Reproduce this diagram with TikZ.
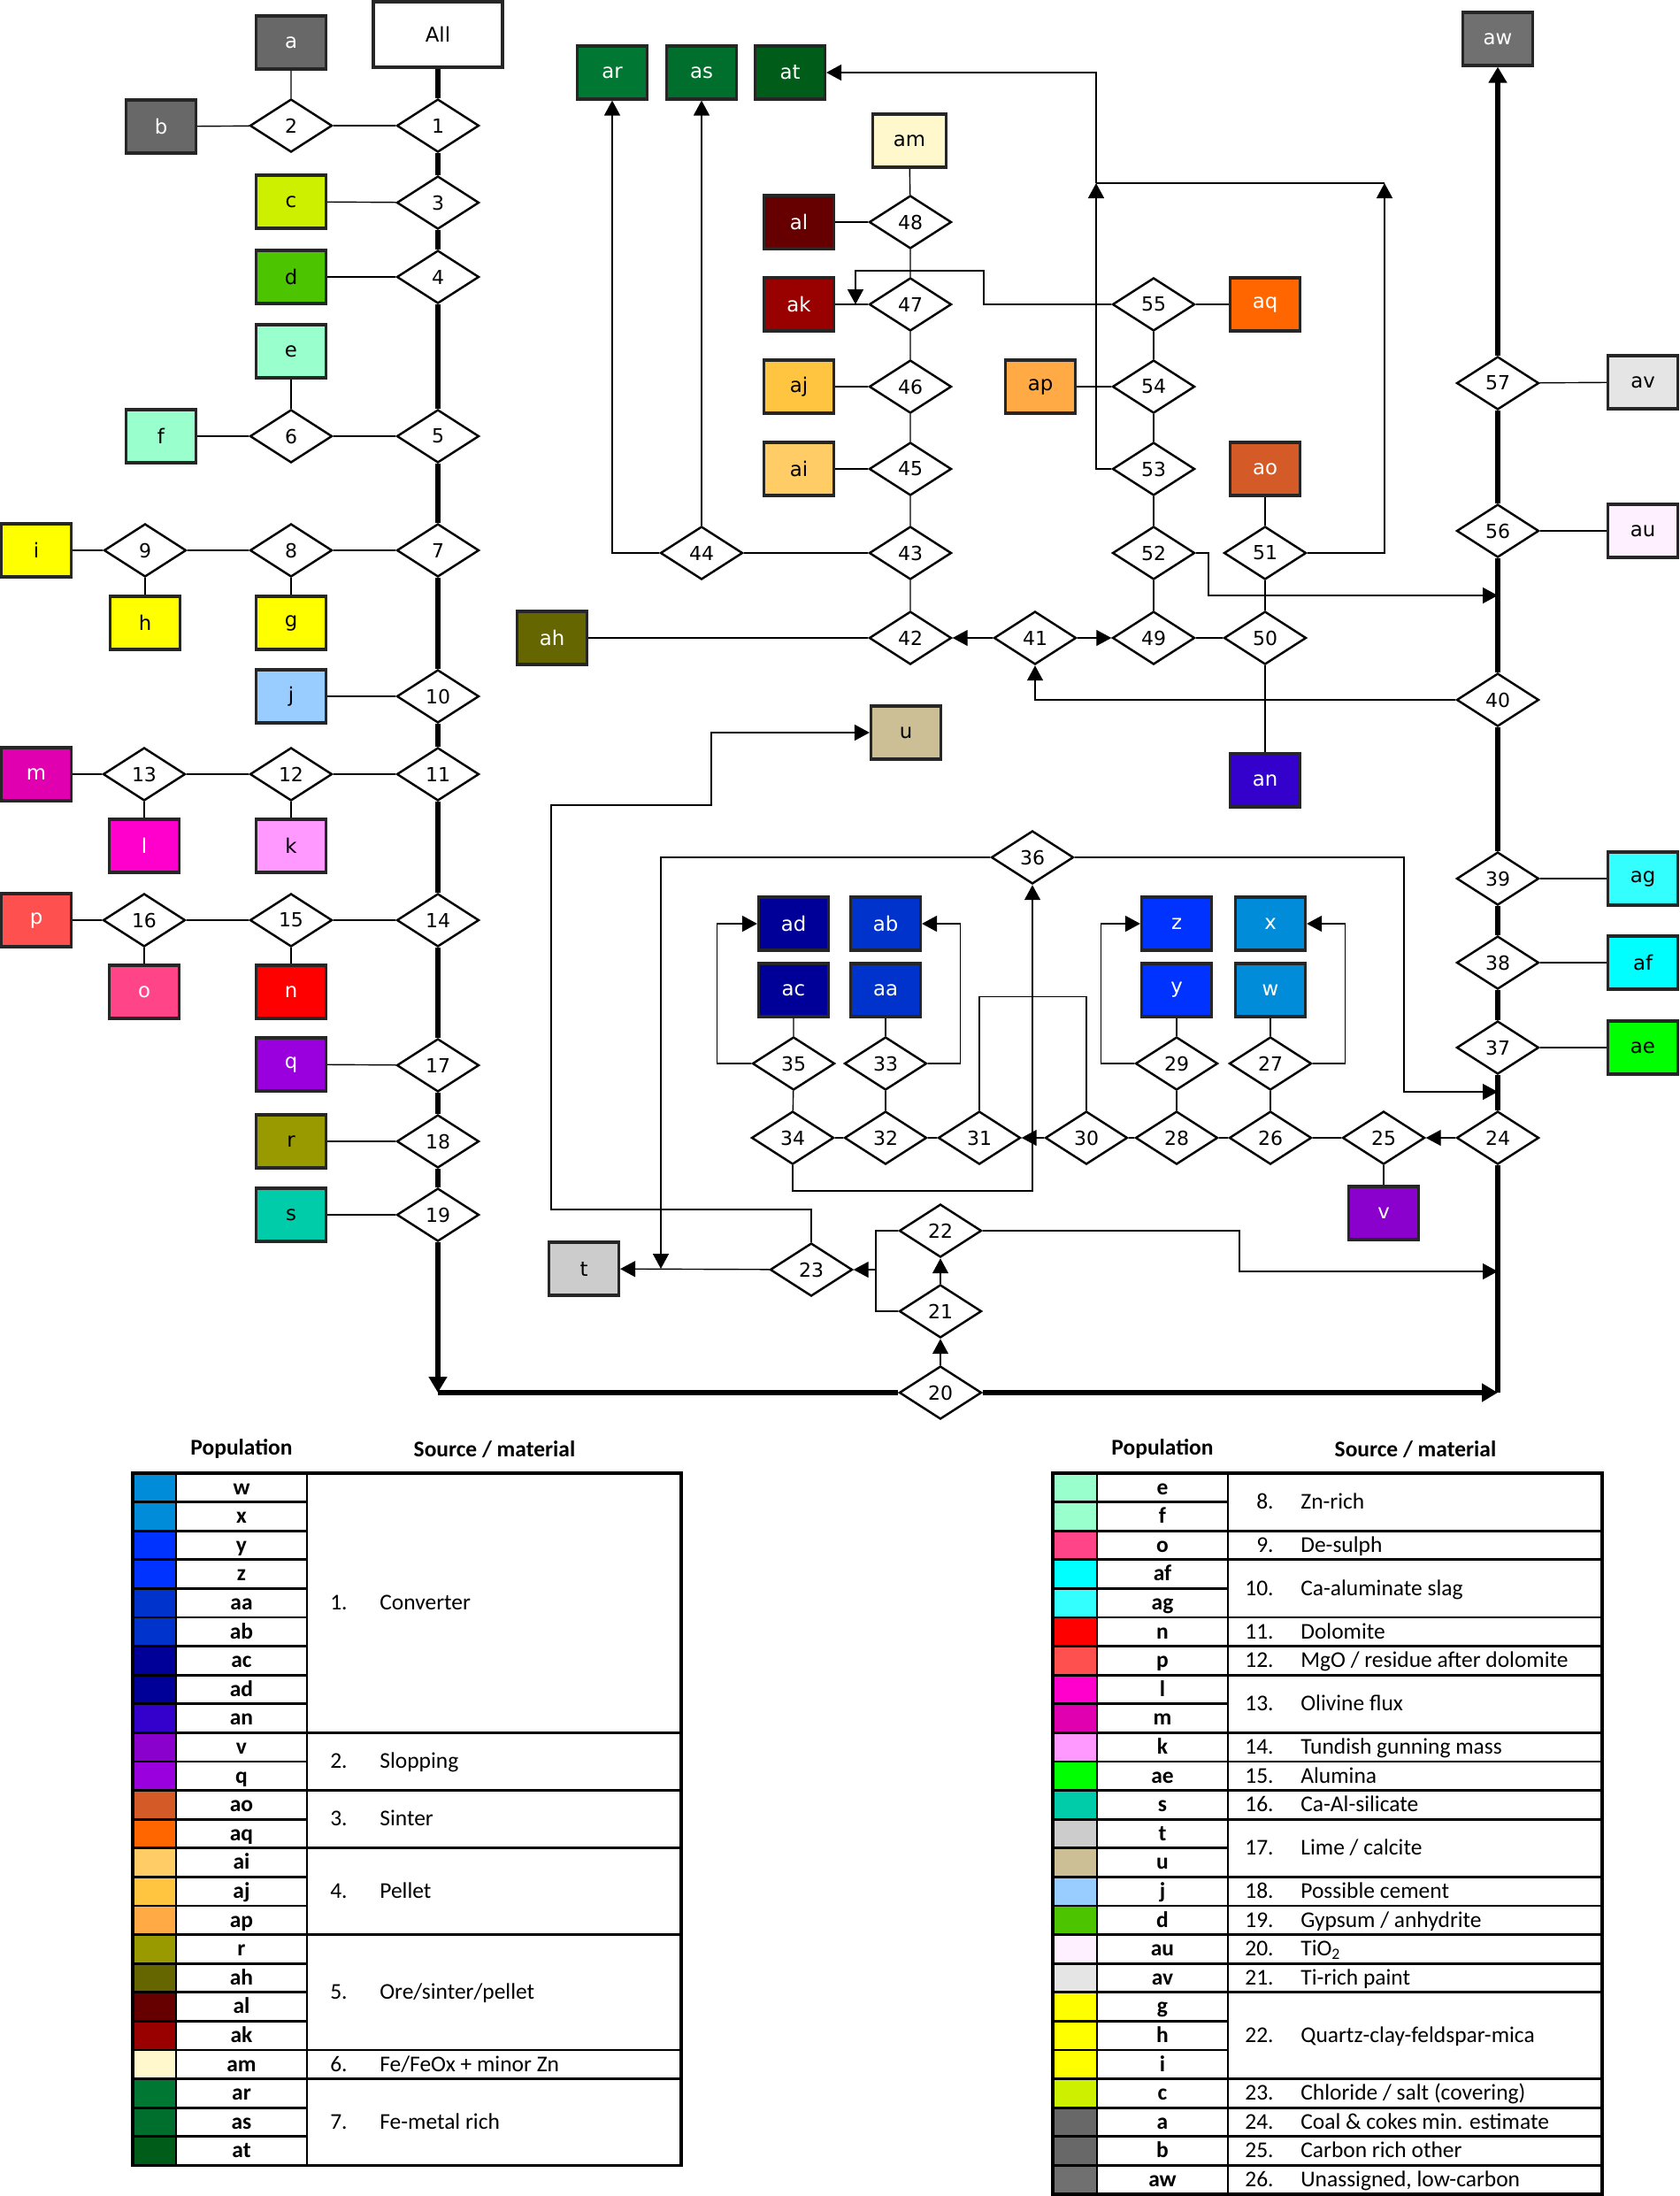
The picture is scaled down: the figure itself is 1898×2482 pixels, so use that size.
\documentclass[tikz,border=0pt]{standalone}
\usepackage{fontspec}
\setmainfont{DejaVu Sans}
\newfontfamily\tabfont{Carlito}
\usetikzlibrary{shapes.geometric, arrows.meta}

% population colours
\definecolor{ca}{HTML}{686868}
\definecolor{cb}{HTML}{686868}
\definecolor{cc}{HTML}{CCF000}
\definecolor{cd}{HTML}{4DC400}
\definecolor{ce}{HTML}{99FFCC}
\definecolor{cf}{HTML}{99FFCC}
\definecolor{cg}{HTML}{FFFF00}
\definecolor{ch}{HTML}{FFFF00}
\definecolor{ci}{HTML}{FFFF00}
\definecolor{cj}{HTML}{99CCFF}
\definecolor{ck}{HTML}{FF99FF}
\definecolor{cl}{HTML}{FF00CC}
\definecolor{cm}{HTML}{E000B0}
\definecolor{cn}{HTML}{FF0000}
\definecolor{co}{HTML}{FF4488}
\definecolor{cp}{HTML}{FF5050}
\definecolor{cq}{HTML}{9900DD}
\definecolor{cr}{HTML}{999900}
\definecolor{cs}{HTML}{00CCAA}
\definecolor{ct}{HTML}{CCCCCC}
\definecolor{cu}{HTML}{CCBF95}
\definecolor{cv}{HTML}{8A00CC}
\definecolor{cw}{HTML}{008CD8}
\definecolor{cx}{HTML}{008CD8}
\definecolor{cy}{HTML}{0033FF}
\definecolor{cz}{HTML}{0033FF}
\definecolor{caa}{HTML}{0033CC}
\definecolor{cab}{HTML}{0033CC}
\definecolor{cac}{HTML}{000099}
\definecolor{cad}{HTML}{000099}
\definecolor{cae}{HTML}{00FF00}
\definecolor{caf}{HTML}{00FFFF}
\definecolor{cag}{HTML}{33FFFF}
\definecolor{cah}{HTML}{666600}
\definecolor{cai}{HTML}{FFCC66}
\definecolor{caj}{HTML}{FFC440}
\definecolor{cak}{HTML}{990000}
\definecolor{cal}{HTML}{660000}
\definecolor{cam}{HTML}{FFF8CC}
\definecolor{can}{HTML}{3300CC}
\definecolor{cao}{HTML}{D45A28}
\definecolor{cap}{HTML}{FFAA44}
\definecolor{caq}{HTML}{FF6600}
\definecolor{car}{HTML}{007733}
\definecolor{cas}{HTML}{006F2D}
\definecolor{cat}{HTML}{005C19}
\definecolor{cau}{HTML}{FFF0FF}
\definecolor{cav}{HTML}{E5E5E5}
\definecolor{caw}{HTML}{707070}

\begin{document}
\begin{tikzpicture}[
    x=0.02cm, y=-0.02cm,
    every node/.style={font=\fontsize{13}{15}\selectfont},
    popbox/.style={rectangle, draw=black!85, line width=1.8pt, minimum width=1.58cm,
                   minimum height=1.2cm, inner sep=0pt},
    litebox/.style={popbox, text=black},
    darkbox/.style={popbox, text=white},
    forkdia/.style={diamond, draw, line width=1.4pt, fill=white, minimum width=1.86cm,
                    minimum height=1.2cm, inner sep=0pt, font=\fontsize{12.5}{14}\selectfont},
    link/.style={line width=0.8pt},
    flow/.style={link, -{Triangle[length=0.34cm, width=0.36cm]}},
    trunk/.style={line width=3pt},
    trunkflow/.style={trunk, -{Triangle[length=0.36cm, width=0.4cm]}},
    tabtext/.style={font=\tabfont\fontsize{14.5}{17}\selectfont, inner sep=0pt},
    tabhead/.style={font=\tabfont\bfseries\fontsize{14.5}{17}\selectfont, inner sep=0pt},
    tabline/.style={line width=1.6pt},
]
    \useasboundingbox[fill=white] (0,0) rectangle (1898,2482);

    % Left column
    \node[popbox, line width=2pt, minimum width=2.92cm, minimum height=1.48cm] (pall) at (495,39) {All};
    \node[darkbox, fill=ca] (pa) at (329,48) {a};
    \node[darkbox, fill=cb] (pb) at (182,143) {b};
    \node[litebox, fill=cc] (pc) at (329,228) {c};
    \node[litebox, fill=cd] (pd) at (329,313) {d};
    \node[litebox, fill=ce] (pe) at (329,397) {e};
    \node[litebox, fill=cf] (pf) at (182,493) {f};
    \node[litebox, fill=ci] (pi) at (41,622) {i};
    \node[litebox, fill=ch] (ph) at (164,704) {h};
    \node[litebox, fill=cg] (pg) at (329,704) {g};
    \node[litebox, fill=cj] (pj) at (329,787) {j};
    \node[darkbox, fill=cm] (pm) at (41,875) {m};
    \node[darkbox, fill=cl] (pl) at (163,956) {l};
    \node[litebox, fill=ck] (pk) at (329,956) {k};
    \node[darkbox, fill=cp] (pp) at (41,1040) {p};
    \node[darkbox, fill=co] (po) at (163,1121) {o};
    \node[darkbox, fill=cn] (pn) at (329,1121) {n};
    \node[darkbox, fill=cq] (pq) at (329,1203) {q};
    \node[litebox, fill=cr] (pr) at (329,1290) {r};
    \node[litebox, fill=cs] (ps) at (329,1373) {s};

    \node[forkdia] (n1) at (495,142) {1};
    \node[forkdia] (n2) at (329,142) {2};
    \node[forkdia] (n3) at (495,229) {3};
    \node[forkdia] (n4) at (495,313) {4};
    \node[forkdia] (n5) at (495,493) {5};
    \node[forkdia] (n6) at (329,493) {6};
    \node[forkdia] (n7) at (495,622) {7};
    \node[forkdia] (n8) at (329,622) {8};
    \node[forkdia] (n9) at (164,622) {9};
    \node[forkdia] (n10) at (495,787) {10};
    \node[forkdia] (n11) at (495,875) {11};
    \node[forkdia] (n12) at (329,875) {12};
    \node[forkdia] (n13) at (163,875) {13};
    \node[forkdia] (n14) at (495,1040) {14};
    \node[forkdia] (n15) at (329,1040) {15};
    \node[forkdia] (n16) at (163,1040) {16};
    \node[forkdia] (n17) at (495,1204) {17};
    \node[forkdia] (n18) at (495,1290) {18};
    \node[forkdia] (n19) at (495,1373) {19};

    % Upper middle
    \node[darkbox, fill=car] (par) at (692,82) {ar};
    \node[darkbox, fill=cas] (pas) at (793,82) {as};
    \node[darkbox, fill=cat] (pat) at (893,82) {at};
    \node[litebox, fill=cam, minimum width=1.66cm] (pam) at (1028,159) {am};
    \node[darkbox, fill=cal] (pal) at (903,251) {al};
    \node[darkbox, fill=cak] (pak) at (903,344) {ak};
    \node[litebox, fill=caj] (paj) at (903,437) {aj};
    \node[litebox, fill=cai] (pai) at (903,530) {ai};
    \node[darkbox, fill=cah] (pah) at (624,721) {ah};
    \node[litebox, fill=cap] (pap) at (1176,437) {ap};
    \node[darkbox, fill=caq] (paq) at (1430,344) {aq};
    \node[darkbox, fill=cao] (pao) at (1430,530) {ao};
    \node[darkbox, fill=can] (pan) at (1430,882) {an};
    \node[litebox, fill=cu] (pu) at (1024,828) {u};

    \node[forkdia] (n48) at (1029,251) {48};
    \node[forkdia] (n47) at (1029,344) {47};
    \node[forkdia] (n46) at (1029,437) {46};
    \node[forkdia] (n45) at (1029,530) {45};
    \node[forkdia] (n44) at (793,625) {44};
    \node[forkdia] (n43) at (1029,625) {43};
    \node[forkdia] (n42) at (1029,721) {42};
    \node[forkdia] (n41) at (1170,721) {41};
    \node[forkdia] (n49) at (1304,721) {49};
    \node[forkdia] (n50) at (1430,721) {50};
    \node[forkdia] (n55) at (1304,344) {55};
    \node[forkdia] (n54) at (1304,437) {54};
    \node[forkdia] (n53) at (1304,530) {53};
    \node[forkdia] (n52) at (1304,625) {52};
    \node[forkdia] (n51) at (1430,625) {51};

    % Right column
    \node[darkbox, fill=caw] (paw) at (1693,44) {aw};
    \node[litebox, fill=cav] (pav) at (1857,432) {av};
    \node[litebox, fill=cau] (pau) at (1857,600) {au};
    \node[litebox, fill=cag] (pag) at (1857,993) {ag};
    \node[litebox, fill=caf] (paf) at (1857,1088) {af};
    \node[litebox, fill=cae] (pae) at (1857,1184) {ae};

    \node[forkdia] (n57) at (1693,433) {57};
    \node[forkdia] (n56) at (1693,600) {56};
    \node[forkdia] (n40) at (1693,791) {40};
    \node[forkdia] (n39) at (1693,993) {39};
    \node[forkdia] (n38) at (1693,1088) {38};
    \node[forkdia] (n37) at (1693,1184) {37};
    \node[forkdia] (n24) at (1693,1286) {24};

    % Lower middle
    \node[darkbox, fill=cad] (pad) at (897,1044) {ad};
    \node[darkbox, fill=cab] (pab) at (1001,1044) {ab};
    \node[darkbox, fill=cz] (pz) at (1330,1044) {z};
    \node[darkbox, fill=cx] (px) at (1436,1044) {x};
    \node[darkbox, fill=cac] (pac) at (897,1119) {ac};
    \node[darkbox, fill=caa] (paa) at (1001,1119) {aa};
    \node[darkbox, fill=cy] (py) at (1330,1119) {y};
    \node[darkbox, fill=cw] (pw) at (1436,1119) {w};
    \node[darkbox, fill=cv] (pv) at (1564,1371) {v};
    \node[litebox, fill=ct] (pt) at (660,1434) {t};

    \node[forkdia] (n36) at (1167,969) {36};
    \node[forkdia] (n35) at (897,1202) {35};
    \node[forkdia] (n33) at (1001,1202) {33};
    \node[forkdia] (n29) at (1330,1202) {29};
    \node[forkdia] (n27) at (1436,1202) {27};
    \node[forkdia] (n34) at (896,1286) {34};
    \node[forkdia] (n32) at (1001,1286) {32};
    \node[forkdia] (n31) at (1107,1286) {31};
    \node[forkdia] (n30) at (1228,1286) {30};
    \node[forkdia] (n28) at (1330,1286) {28};
    \node[forkdia] (n26) at (1436,1286) {26};
    \node[forkdia] (n25) at (1564,1286) {25};
    \node[forkdia] (n22) at (1063,1391) {22};
    \node[forkdia] (n23) at (917,1435) {23};
    \node[forkdia] (n21) at (1063,1482) {21};
    \node[forkdia] (n20) at (1063,1574) {20};

    % Junctions
    \coordinate (bl) at (495,1574);
    \coordinate (br) at (1693,1574);
    \coordinate (j53) at (1239,207);
    \coordinate (j51) at (1565,207);
    \coordinate (k47) at (967,344);
    \coordinate (r52) at (1693,673);
    \coordinate (r36) at (1693,1234);
    \coordinate (r22) at (1693,1437);
    \coordinate (t36) at (747,1434);
    \coordinate (m22) at (990,1435);

    % Main trunks
    \draw[trunkflow] (pall) -- (n1) -- (n3) -- (n4) -- (n5) -- (n7) -- (n10) -- (n11)
        -- (n14) -- (n17) -- (n18) -- (n19) -- (bl);
    \draw[trunkflow] (bl) -- (n20) -- (br);
    \draw[trunkflow] (br) -- (n24) -- (n37) -- (n38) -- (n39) -- (n40) -- (n56) -- (n57) -- (paw);

    % Left branches
    \draw[link] (pa) -- (n2) -- (pb);
    \draw[link] (n2) -- (n1);
    \draw[link] (pc) -- (n3);
    \draw[link] (pd) -- (n4);
    \draw[link] (pe) -- (n6) -- (pf);
    \draw[link] (n6) -- (n5);
    \draw[link] (pi) -- (n9) -- (n8) -- (n7);
    \draw[link] (n9) -- (ph);
    \draw[link] (n8) -- (pg);
    \draw[link] (pj) -- (n10);
    \draw[link] (pm) -- (n13) -- (n12) -- (n11);
    \draw[link] (n13) -- (pl);
    \draw[link] (n12) -- (pk);
    \draw[link] (pp) -- (n16) -- (n15) -- (n14);
    \draw[link] (n16) -- (po);
    \draw[link] (n15) -- (pn);
    \draw[link] (pq) -- (n17);
    \draw[link] (pr) -- (n18);
    \draw[link] (ps) -- (n19);

    % Upper middle branches
    \draw[link] (pam) -- (n48) -- (n47) -- (n46) -- (n45) -- (n43) -- (n42);
    \draw[link] (pal) -- (n48);
    \draw[link] (pak) -- (n47);
    \draw[link] (paj) -- (n46);
    \draw[link] (pai) -- (n45);
    \draw[link] (n43) -- (n44);
    \draw[link] (pah) -- (n42);
    \draw[flow] (n44.west) -| (par.south);
    \draw[flow] (n44) -- (pas);
    \draw[flow] (n40.west) -| (n41.south);
    \draw[flow] (n41) -- (n42);
    \draw[flow] (n41) -- (n49);
    \draw[link] (n49) -- (n50);
    \draw[link] (paq) -- (n55) -- (n54) -- (n53) -- (n52) -- (n49);
    \draw[link] (pap) -- (n54);
    \draw[link] (pao) -- (n51) -- (n50) -- (pan);
    \draw[flow] (n55.west) -| (1112,306) -| (k47);
    \draw[flow] (n53.west) -| (j53);
    \draw[flow] (n51.east) -| (j51);
    \draw[link] (j51) -- (j53);
    \draw[flow] (j53) |- (pat.east);
    \draw[flow] (n52.east) -| (1366,673) -- (r52);

    % Right branches
    \draw[link] (n57) -- (pav);
    \draw[link] (n56) -- (pau);
    \draw[link] (n39) -- (pag);
    \draw[link] (n38) -- (paf);
    \draw[link] (n37) -- (pae);

    % Lower middle branches
    \draw[flow] (n24) -- (n25);
    \draw[link] (n25) -- (pv);
    \draw[link] (n25) -- (n26) -- (n28) -- (n30);
    \draw[flow] (n30) -- (n31);
    \draw[link] (n31) -- (n32) -- (n34);
    \draw[link] (n26) -- (n27) -- (pw);
    \draw[link] (n28) -- (n29) -- (py);
    \draw[link] (n32) -- (n33) -- (paa);
    \draw[link] (n34) -- (n35) -- (pac);
    \draw[flow] (n35.west) -- ++(-39,0) |- (pad.west);
    \draw[flow] (n33.east) -- ++(37,0) |- (pab.east);
    \draw[flow] (n29.west) -- ++(-38,0) |- (pz.west);
    \draw[flow] (n27.east) -- ++(37,0) |- (px.east);
    \draw[link] (n31.north) -- ++(0,-128) -| (n30.north);
    \draw[flow] (n34.south) |- (1167,1346) -- (n36.south);
    \draw[flow] (n36.west) -| (t36);
    \draw[flow] (n36.east) -| (1587,1234) -- (r36);

    % Bottom branches
    \draw[flow] (n20) -- (n21);
    \draw[flow] (n21) -- (n22);
    \draw[link] (n22.west) -| (990,1482) -- (n21.west);
    \draw[flow] (m22) -- (n23.east);
    \draw[flow] (n22.east) -| (1401,1437) -- (r22);
    \draw[flow] (n23) -- (pt);
    \draw[flow] (n23.north) |- (623,1367) |- (804,910) |- (pu.west);

    % Legend, left table
    \node[tabhead] (lhp) at (273,1638) {Population};
    \node[tabhead] (lhs) at (559,1638) {Source / material};
    \foreach \lab/\col [count=\i from 0] in {w/cw, x/cx, y/cy, z/cz, aa/caa, ab/cab, ac/cac,
        ad/cad, an/can, v/cv, q/cq, ao/cao, aq/caq, ai/cai, aj/caj, ap/cap, r/cr, ah/cah,
        al/cal, ak/cak, am/cam, ar/car, as/cas, at/cat} {
        \draw[tabline, fill=\col] (150,1665+\i*32.6) rectangle (199,1697.6+\i*32.6);
        \draw[tabline] (199,1665+\i*32.6) rectangle (347,1697.6+\i*32.6);
        \node[tabhead, anchor=base] (L\i) at (273,1689+\i*32.6) {\lab};
    }
    \foreach \first/\last/\num/\txt in {0/8/1./{Converter}, 9/10/2./{Slopping},
        11/12/3./{Sinter}, 13/15/4./{Pellet}, 16/19/5./{Ore/sinter/pellet},
        20/20/6./{Fe/FeOx + minor Zn}, 21/23/7./{Fe-metal rich}} {
        \draw[tabline] (347,1665+\first*32.6) rectangle (770,1697.6+\last*32.6);
        \node[tabtext, anchor=base east] (LN\first) at (393,1689+\first*16.3+\last*16.3) {\num};
        \node[tabtext, anchor=base west] (LT\first) at (429,1689+\first*16.3+\last*16.3) {\txt};
    }
    \draw[line width=2pt] (150,1665) rectangle (770,2447.4);

    % Legend, right table
    \node[tabhead] (rhp) at (1314,1638) {Population};
    \node[tabhead] (rhs) at (1600,1638) {Source / material};
    \foreach \lab/\col [count=\i from 0] in {e/ce, f/cf, o/co, af/caf, ag/cag, n/cn, p/cp,
        l/cl, m/cm, k/ck, ae/cae, s/cs, t/ct, u/cu, j/cj, d/cd, au/cau, av/cav, g/cg, h/ch,
        i/ci, c/cc, a/ca, b/cb, aw/caw} {
        \draw[tabline, fill=\col] (1190,1665+\i*32.6) rectangle (1240,1697.6+\i*32.6);
        \draw[tabline] (1240,1665+\i*32.6) rectangle (1388,1697.6+\i*32.6);
        \node[tabhead, anchor=base] (R\i) at (1314,1689+\i*32.6) {\lab};
    }
    \foreach \first/\last/\num/\txt in {0/1/8./{Zn-rich}, 2/2/9./{De-sulph},
        3/4/10./{Ca-aluminate slag}, 5/5/11./{Dolomite}, 6/6/12./{MgO / residue after dolomite},
        7/8/13./{Olivine flux}, 9/9/14./{Tundish gunning mass}, 10/10/15./{Alumina},
        11/11/16./{Ca-Al-silicate}, 12/13/17./{Lime / calcite}, 14/14/18./{Possible cement},
        15/15/19./{Gypsum / anhydrite}, 16/16/20./{TiO\textsubscript{2}},
        17/17/21./{Ti-rich paint}, 18/20/22./{Quartz-clay-feldspar-mica},
        21/21/23./{Chloride / salt (covering)}, 22/22/24./{Coal \& cokes min. estimate},
        23/23/25./{Carbon rich other}, 24/24/26./{Unassigned, low-carbon}} {
        \draw[tabline] (1388,1665+\first*32.6) rectangle (1811,1697.6+\last*32.6);
        \node[tabtext, anchor=base east] (RN\first) at (1440,1689+\first*16.3+\last*16.3) {\num};
        \node[tabtext, anchor=base west] (RT\first) at (1470,1689+\first*16.3+\last*16.3) {\txt};
    }
    \draw[line width=2pt] (1190,1665) rectangle (1811,2480);
\end{tikzpicture}
\end{document}
